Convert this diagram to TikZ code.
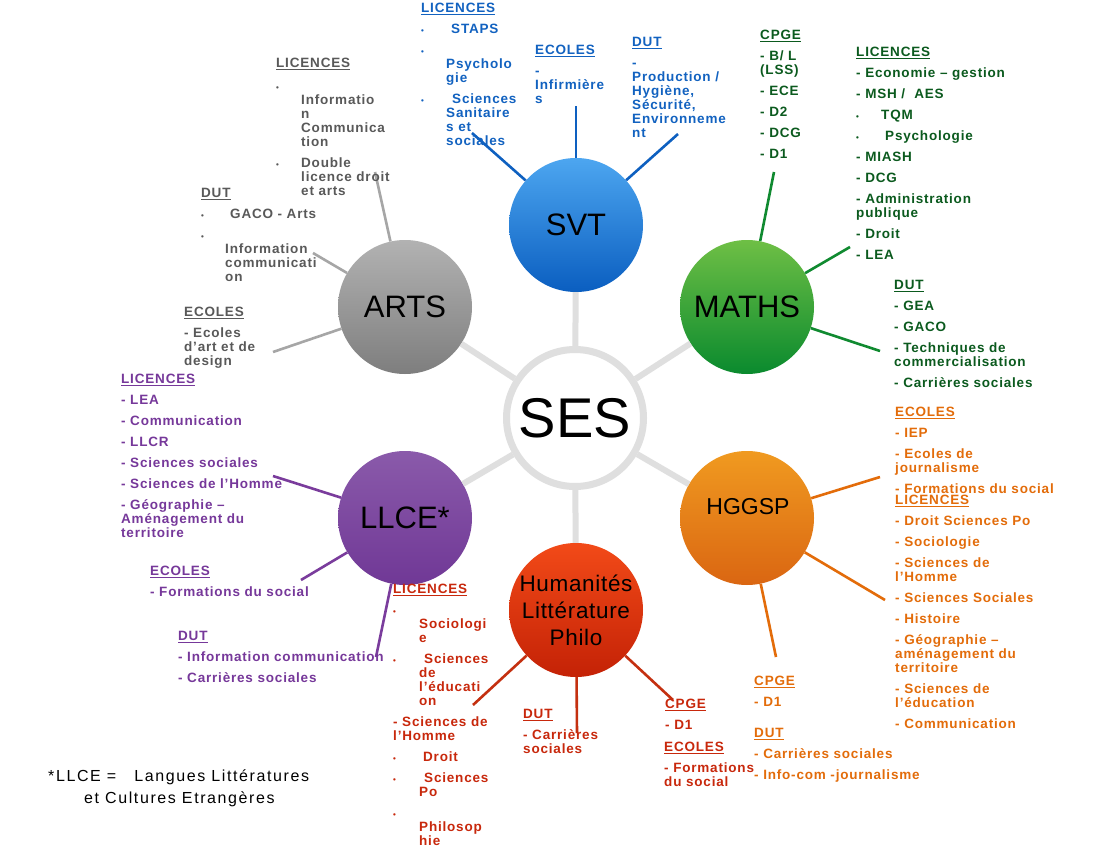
\documentclass[tikz,border=0pt]{standalone}
\usepackage{fontspec}
\setmainfont{Liberation Sans}
\newfontfamily\blkfont[LetterSpace=6]{Liberation Sans}
\newfontfamily\humfont[LetterSpace=3]{Liberation Sans}
\newfontfamily\notefont[LetterSpace=10]{Liberation Sans}
\definecolor{gtxt}{HTML}{595959}
\definecolor{gln}{HTML}{A6A6A6}
\definecolor{btxt}{HTML}{1262C0}
\definecolor{bln}{HTML}{0E60C0}
\definecolor{mtxt}{HTML}{0B5A1E}
\definecolor{mln}{HTML}{108A30}
\definecolor{otxt}{HTML}{E36C0A}
\definecolor{oln}{HTML}{E36C0A}
\definecolor{rtxt}{HTML}{C8280C}
\definecolor{rln}{HTML}{C43010}
\definecolor{ptxt}{HTML}{76389A}
\definecolor{pln}{HTML}{7A3C9C}
\definecolor{spk}{HTML}{DFDFDF}
\definecolor{svtT}{HTML}{4DA6F0}\definecolor{svtB}{HTML}{0A5EC0}
\definecolor{maT}{HTML}{6EBF45}\definecolor{maB}{HTML}{0A8A2E}
\definecolor{hgT}{HTML}{F09A20}\definecolor{hgB}{HTML}{DA6612}
\definecolor{huT}{HTML}{F24A18}\definecolor{huB}{HTML}{C42206}
\definecolor{llT}{HTML}{8A5AAA}\definecolor{llB}{HTML}{703896}
\definecolor{arT}{HTML}{B2B2B2}\definecolor{arB}{HTML}{7E7E7E}
\newcommand\hd[1]{\setbox0\hbox{#1}\rlap{\rule[-2.6pt]{\wd0}{1.5pt}}\box0}
\newcommand\bul{{\fontsize{8}{8}\selectfont\textbullet}}
\newcommand\bl[1][25pt]{\makebox[#1][l]{\bul}}
\newcommand\ii{\hspace*{25pt}}
\tikzset{
  blk/.style={font=\blkfont\bfseries\fontsize{13.5}{14}\selectfont, align=left, anchor=north west, inner sep=0pt},
  circ/.style={circle, minimum size=134pt, inner sep=0pt, font=\fontsize{31}{31}\selectfont},
  spoke/.style={draw=spk, line width=6pt},
  ln/.style={line width=2.6pt},
}
\begin{document}
\begin{tikzpicture}[x=1pt,y=-1pt]
\useasboundingbox (0,0) rectangle (1120,862);
\fill[white] (0,0) rectangle (1120,862);

% centre and subject circles
\node[circle, minimum size=137pt, inner sep=0pt, draw=spk, line width=7pt, fill=white, font=\fontsize{56}{56}\selectfont] (ses) at (575,418) {SES};
\node[circ, top color=svtT, bottom color=svtB] (svt) at (576,225) {SVT};
\node[circ, top color=maT, bottom color=maB] (maths) at (747,307) {MATHS};
\node[circ, top color=hgT, bottom color=hgB] (hg) at (747,518) {};
\node[font=\fontsize{23}{23}\selectfont, inner sep=0pt] (hglab) at (748,507) {HGGSP};
\node[circ, top color=huT, bottom color=huB, font=\humfont\fontsize{22.5}{27}\selectfont, align=center] (hum) at (576,610) {Humanités\\Littérature\\Philo};
\node[circ, top color=llT, bottom color=llB] (llce) at (405,518) {LLCE*};
\node[circ, top color=arT, bottom color=arB] (arts) at (405,307) {ARTS};

% spokes
\foreach \n in {svt,maths,hg,hum,llce,arts} \draw[spoke] (ses) -- (\n);

% free ends of connectors
\coordinate (a1) at (375,172); \coordinate (a2) at (313,253); \coordinate (a3) at (273,352);
\coordinate (s1) at (472,133); \coordinate (s2) at (576,106); \coordinate (s3) at (678,134);
\coordinate (m1) at (774,172); \coordinate (m2) at (850,247); \coordinate (m3) at (880,351);
\coordinate (h1) at (880,477); \coordinate (h2) at (885,600); \coordinate (h3) at (776,657);
\coordinate (u1) at (473,705); \coordinate (u2) at (577,733); \coordinate (u3) at (673,700);
\coordinate (l1) at (273,476); \coordinate (l2) at (301,580); \coordinate (l3) at (376,657);

\draw[ln, gln] (arts) -- (a1); \draw[ln, gln] (arts) -- (a2); \draw[ln, gln] (arts) -- (a3);
\draw[ln, bln] (svt) -- (s1); \draw[ln, bln] (svt) -- (s2); \draw[ln, bln] (svt) -- (s3);
\draw[ln, mln] (maths) -- (m1); \draw[ln, mln] (maths) -- (m2); \draw[ln, mln] (maths) -- (m3);
\draw[ln, oln] (hg) -- (h1); \draw[ln, oln] (hg) -- (h2); \draw[ln, oln] (hg) -- (h3);
\draw[ln, rln] (hum) -- (u1); \draw[ln, rln] (hum) -- (u2); \draw[ln, rln] (hum) -- (u3);
\draw[ln, pln] (llce) -- (l1); \draw[ln, pln] (llce) -- (l2); \draw[ln, pln] (llce) -- (l3);

% ARTS
\node[blk, text=gtxt] (artsL) at (276,58) {\hd{LICENCES}\\[9pt]\bul\\\ii Informatio\\\ii n\\\ii Communica\\\ii tion\\[7pt]\bl Double\\\ii licence droit\\\ii et arts};
\node[blk, text=gtxt] (artsD) at (201,188) {\hd{DUT}\\[7pt]\bl[29pt]GACO - Arts\\[7pt]\bul\\\hspace*{24pt}Information\\\hspace*{24pt}communicati\\\hspace*{24pt}on};
\node[blk, text=gtxt] (artsE) at (184,307) {\hd{ECOLES}\\[7pt]- Ecoles\\d’art et de\\design};

% SVT
\node[blk, text=btxt] (svtL) at (421,3) {\hd{LICENCES}\\[7pt]\bl[30pt]STAPS\\[7pt]\bul\\\ii Psycholo\\\ii gie\\[7pt]\bl[31pt]Sciences\\\ii Sanitaire\\\ii s et\\\ii sociales};
\node[blk, text=btxt] (svtE) at (535,45) {\hd{ECOLES}\\[7pt]-\\Infirmière\\s};
\node[blk, text=btxt] (svtD) at (632,37) {\hd{DUT}\\[7pt]-\\Production /\\Hygiène,\\Sécurité,\\Environneme\\nt};

% MATHS
\node[blk, text=mtxt] (mC) at (760,30) {\hd{CPGE}\\[7pt]- B/ L\\(LSS)\\[7pt]- ECE\\[7pt]- D2\\[7pt]- DCG\\[7pt]- D1};
\node[blk, text=mtxt] (mL) at (856,47) {\hd{LICENCES}\\[7pt]- Economie – gestion\\[7pt]- MSH /\ \ AES\\[7pt]\bl TQM\\[7pt]\bl[29pt]Psychologie\\[7pt]- MIASH\\[7pt]- DCG\\[7pt]- Administration\\publique\\[7pt]- Droit\\[7pt]- LEA};
\node[blk, text=mtxt] (mD) at (894,280) {\hd{DUT}\\[7pt]- GEA\\[7pt]- GACO\\[7pt]- Techniques de\\commercialisation\\[7pt]- Carrières sociales};

% HGGSP
\node[blk, text=otxt] (hE) at (895,407) {\hd{ECOLES}\\[7pt]- IEP\\[7pt]- Ecoles de\\journalisme\\[7pt]- Formations du social};
\node[blk, text=otxt] (hL) at (895,495) {\hd{LICENCES}\\[7pt]- Droit Sciences Po\\[7pt]- Sociologie\\[7pt]- Sciences de\\l’Homme\\[7pt]- Sciences Sociales\\[7pt]- Histoire\\[7pt]- Géographie –\\aménagement du\\territoire\\[7pt]- Sciences de\\l’éducation\\[7pt]- Communication};
\node[blk, text=otxt] (hC) at (754,676) {\hd{CPGE}\\[7pt]- D1};
\node[blk, text=otxt] (hD) at (754,728) {\hd{DUT}\\[7pt]- Carrières sociales\\[7pt]- Info-com -journalisme};

% Humanites
\node[blk, text=rtxt] (huL) at (393,584) {\hd{LICENCES}\\[7pt]\bul\\\hspace*{26pt}Sociologi\\\hspace*{26pt}e\\[7pt]\bl[31pt]Sciences\\\hspace*{26pt}de\\\hspace*{26pt}l’éducati\\\hspace*{26pt}on\\[7pt]- Sciences de\\l’Homme\\[7pt]\bl[30pt]Droit\\[7pt]\bl[31pt]Sciences\\\hspace*{26pt}Po\\[7pt]\bul\\\hspace*{26pt}Philosop\\\hspace*{26pt}hie};
\node[blk, text=rtxt] (huD) at (523,709) {\hd{DUT}\\[7pt]- Carrières\\sociales};
\node[blk, text=rtxt] (huC) at (665,699) {\hd{CPGE}\\[7pt]- D1};
\node[blk, text=rtxt] (huE) at (664,742) {\hd{ECOLES}\\[7pt]- Formations\\du social};

% LLCE
\node[blk, text=ptxt] (lL) at (121,374) {\hd{LICENCES}\\[7pt]- LEA\\[7pt]- Communication\\[7pt]- LLCR\\[7pt]- Sciences sociales\\[7pt]- Sciences de l’Homme\\[7pt]- Géographie –\\Aménagement du\\territoire};
\node[blk, text=ptxt] (lE) at (150,566) {\hd{ECOLES}\\[7pt]- Formations du social};
\node[blk, text=ptxt] (lD) at (178,631) {\hd{DUT}\\[7pt]- Information communication\\[7pt]- Carrières sociales};

% footnote
\node[anchor=north west, inner sep=0pt, font=\notefont\fontsize{16}{22}\selectfont, align=left] (note) at (48,770) {*LLCE =\ \ \ Langues Littératures\\\hspace*{36pt}et Cultures Etrangères};
\end{tikzpicture}
\end{document}
